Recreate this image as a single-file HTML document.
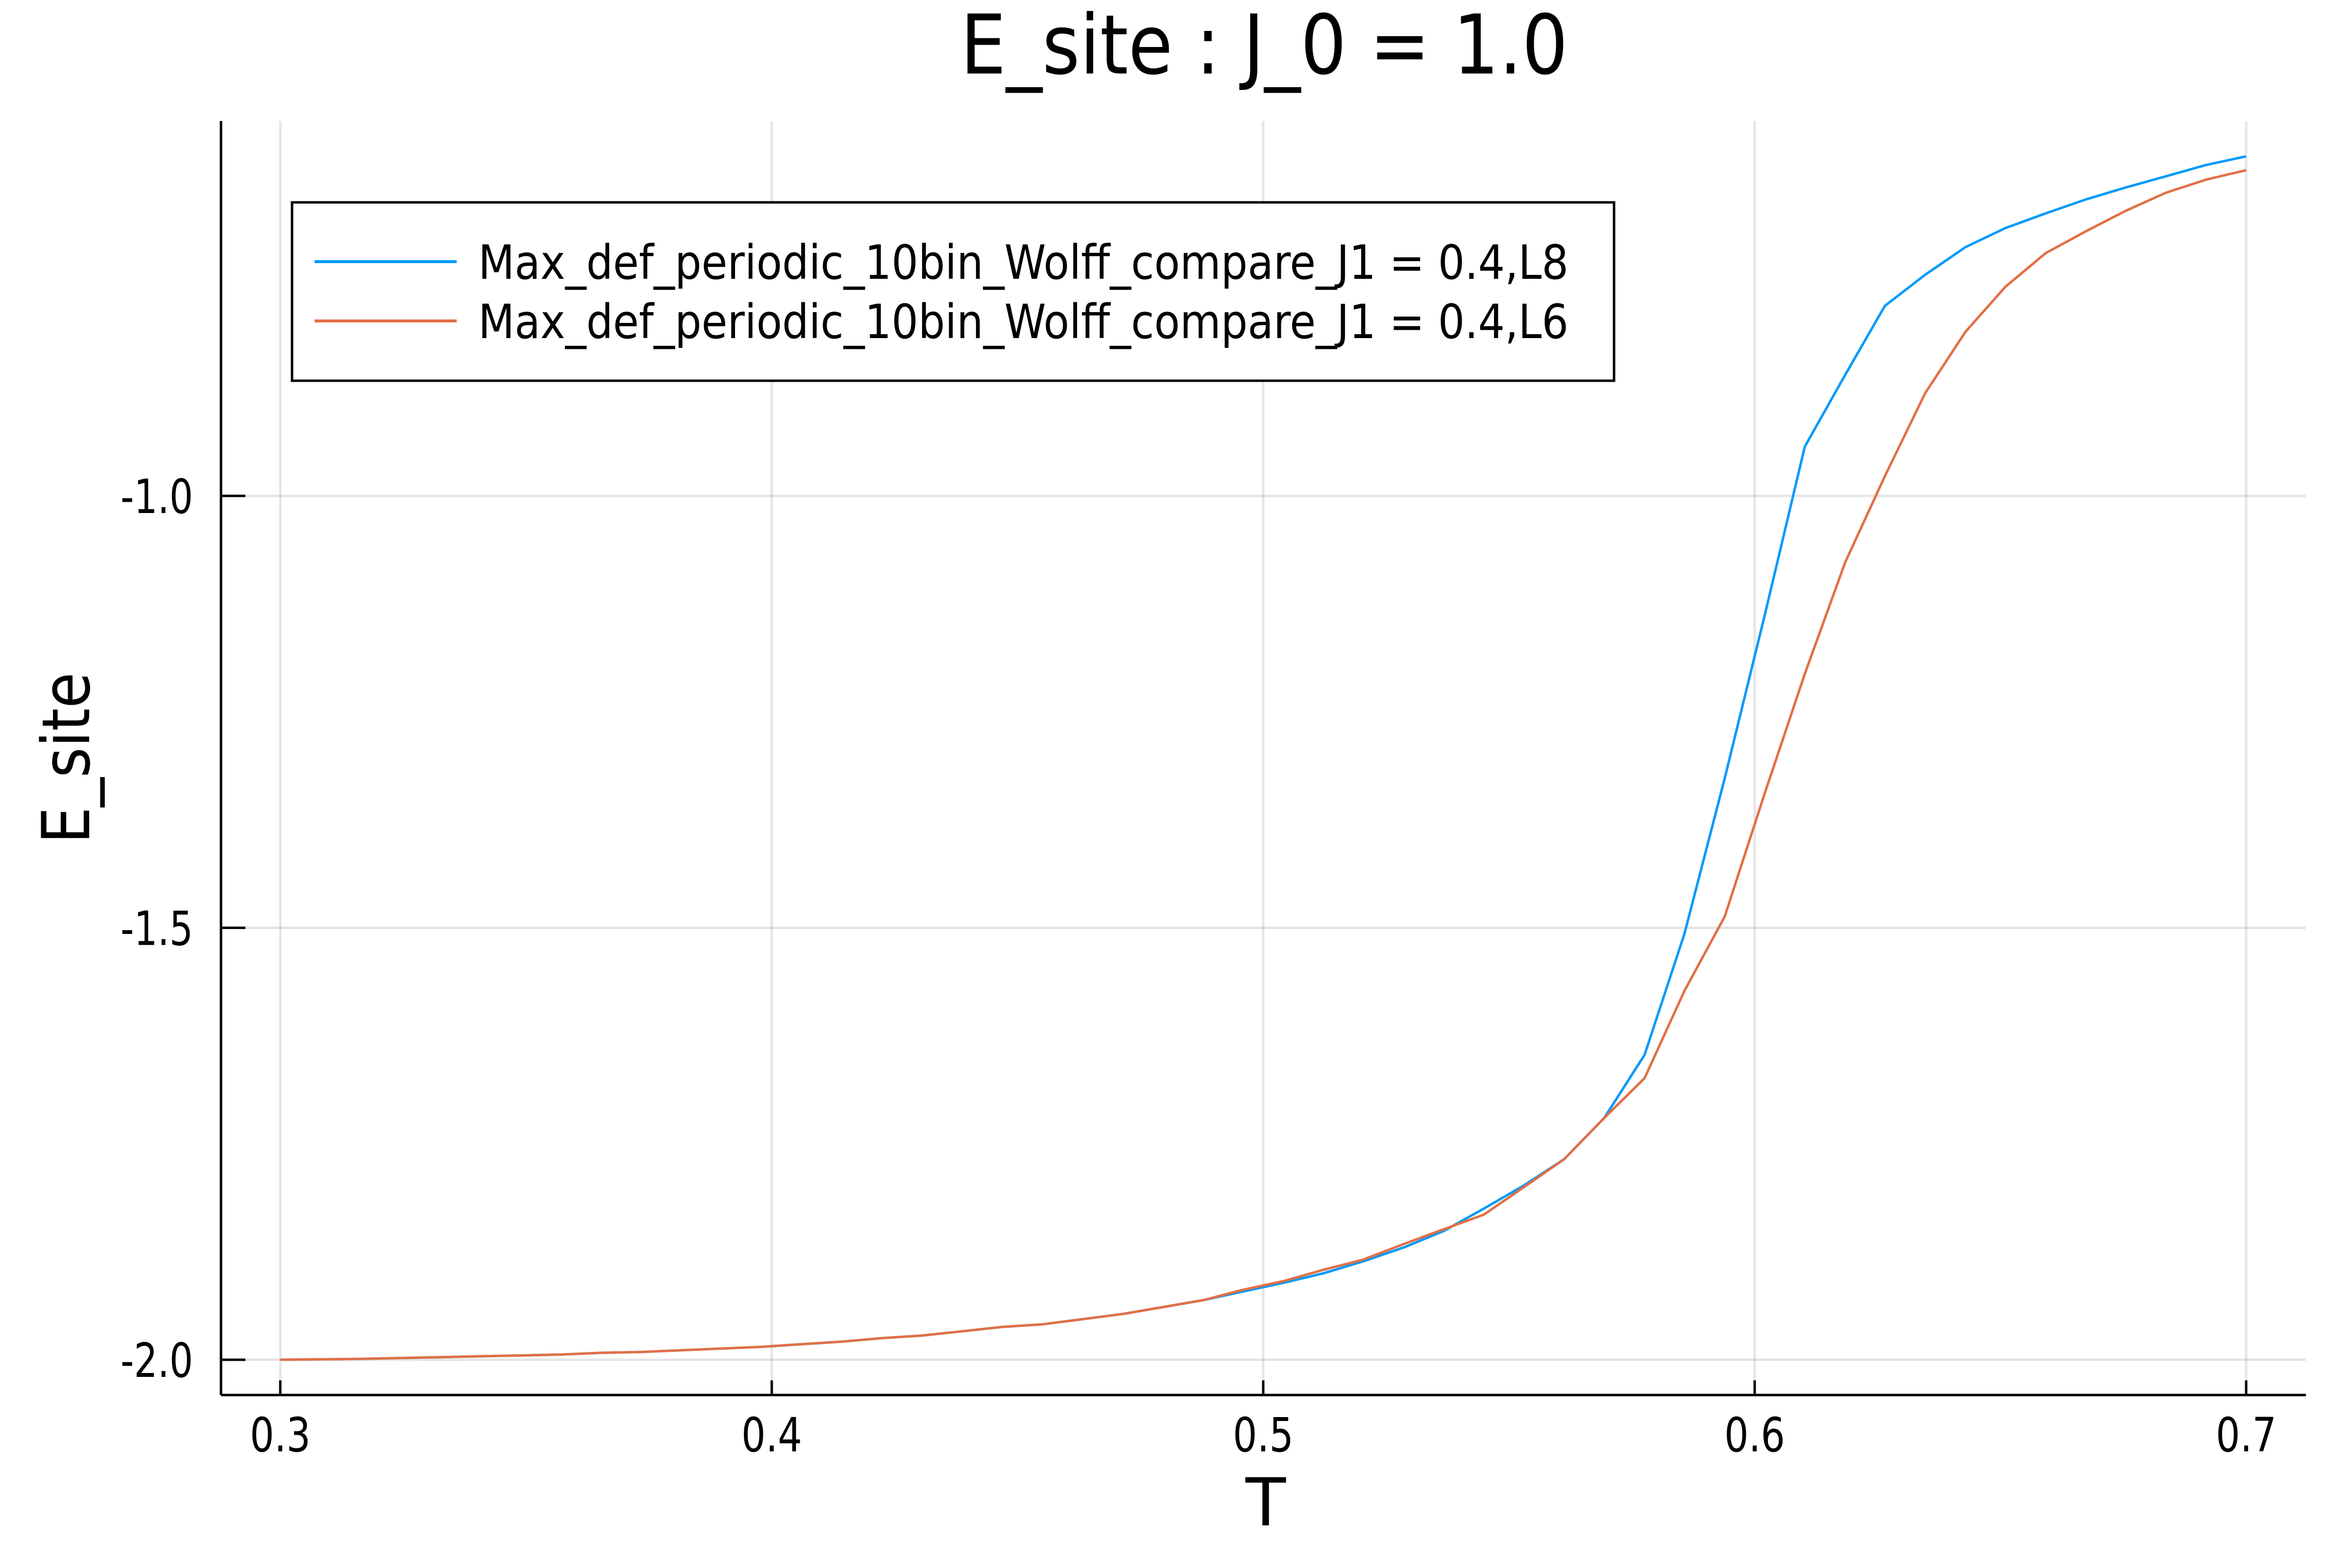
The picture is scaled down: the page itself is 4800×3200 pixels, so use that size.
<!DOCTYPE html>
<html><head><meta charset="utf-8"><style>html,body{margin:0;padding:0;background:#fff}svg{display:block}text{font-family:"DejaVu Sans","Liberation Sans",sans-serif;fill:#000}</style></head>
<body>
<svg id="chart" width="4800" height="3200" viewBox="0 0 4800 3200" xmlns="http://www.w3.org/2000/svg">
<rect x="0" y="0" width="4800" height="3200" fill="#fff"/>
<g id="grid"></g>
<g id="series"></g>
<g id="axes"></g>
<text x="2580" y="150" font-size="168" text-anchor="middle" textLength="1240" lengthAdjust="spacingAndGlyphs">E_site : J_0 = 1.0</text>
<text x="2583" y="3113" font-size="135" text-anchor="middle">T</text>
<text x="0" y="0" font-size="135" text-anchor="middle" transform="translate(182,1547) rotate(-90)" textLength="350" lengthAdjust="spacingAndGlyphs">E_site</text>
<g>
<rect x="596" y="413" width="2698" height="364" fill="#fff" stroke="#000" stroke-width="5"/>
<line x1="642" y1="534" x2="932" y2="534" stroke="#009af9" stroke-width="6"/>
<text x="976" y="569" font-size="96" textLength="2225" lengthAdjust="spacingAndGlyphs">Max_def_periodic_10bin_Wolff_compare_J1 = 0.4,L8</text>
<line x1="642" y1="655" x2="932" y2="655" stroke="#e26f46" stroke-width="6"/>
<text x="976" y="690" font-size="96" textLength="2225" lengthAdjust="spacingAndGlyphs">Max_def_periodic_10bin_Wolff_compare_J1 = 0.4,L6</text>
</g>
</svg>
<script>
const temps=[0.3,0.3082,0.3163,0.3245,0.3327,0.3408,0.3490,0.3571,0.3653,0.3735,0.3816,0.3898,0.3980,0.4061,0.4143,0.4224,0.4306,0.4388,0.4469,0.4551,0.4633,0.4714,0.4796,0.4878,0.4959,0.5041,0.5122,0.5204,0.5286,0.5367,0.5449,0.5531,0.5612,0.5694,0.5776,0.5857,0.5939,0.6020,0.6102,0.6184,0.6265,0.6347,0.6429,0.6510,0.6592,0.6673,0.6755,0.6837,0.6918,0.7000];
const seriesL8=[-2.0,-1.9995,-1.999,-1.998,-1.997,-1.996,-1.995,-1.994,-1.992,-1.991,-1.989,-1.987,-1.985,-1.982,-1.979,-1.975,-1.972,-1.967,-1.962,-1.959,-1.953,-1.947,-1.939,-1.931,-1.921,-1.911,-1.900,-1.886,-1.870,-1.851,-1.825,-1.798,-1.768,-1.720,-1.647,-1.507,-1.327,-1.139,-0.943,-0.860,-0.780,-0.744,-0.712,-0.690,-0.673,-0.657,-0.643,-0.630,-0.617,-0.607];
const seriesL6=[-2.0,-1.9995,-1.999,-1.998,-1.997,-1.996,-1.995,-1.994,-1.992,-1.991,-1.989,-1.987,-1.985,-1.982,-1.979,-1.975,-1.972,-1.967,-1.962,-1.959,-1.953,-1.947,-1.939,-1.931,-1.919,-1.909,-1.896,-1.884,-1.866,-1.849,-1.832,-1.800,-1.768,-1.720,-1.674,-1.573,-1.487,-1.345,-1.206,-1.077,-0.977,-0.881,-0.810,-0.758,-0.719,-0.694,-0.670,-0.649,-0.634,-0.623];
const xTicks=[0.3,0.4,0.5,0.6,0.7];
const xTickLabels=["0.3","0.4","0.5","0.6","0.7"];
const yTicks=[-2.0,-1.5,-1.0];
const yTickLabels=["-2.0","-1.5","-1.0"];

const NS="http://www.w3.org/2000/svg";
const L=451,R=4706,T=247,B=2847;
function xs(v){return 572+(v-0.3)*10030;}
function ys(v){return 1012+(-1-v)*1763;}
function mk(tag,attrs,parent){const e=document.createElementNS(NS,tag);for(const k in attrs)e.setAttribute(k,attrs[k]);parent.appendChild(e);return e;}
const grid=document.getElementById('grid'),axes=document.getElementById('axes'),ser=document.getElementById('series');
xTicks.forEach((v,i)=>{
  const g=mk('line',{x1:xs(v),x2:xs(v),y1:T,y2:B,stroke:'#000','stroke-opacity':0.1,'stroke-width':5},grid);
  
  
  const t=mk('line',{x1:xs(v),x2:xs(v),y1:B,y2:B-30,stroke:'#000','stroke-width':5},axes);
  
  
  const lb=mk('text',{x:xs(v),y:2962,'font-size':96,'text-anchor':'middle',textLength:124,lengthAdjust:'spacingAndGlyphs'},axes);
  lb.textContent=xTickLabels[i];
  
  
});
yTicks.forEach((v,i)=>{
  const g=mk('line',{x1:L,x2:R,y1:ys(v),y2:ys(v),stroke:'#000','stroke-opacity':0.1,'stroke-width':5},grid);
  
  
  const t=mk('line',{x1:L,x2:L+50,y1:ys(v),y2:ys(v),stroke:'#000','stroke-width':5},axes);
  
  
  const lb=mk('text',{x:394,y:ys(v)+35,'font-size':96,'text-anchor':'end',textLength:148,lengthAdjust:'spacingAndGlyphs'},axes);
  lb.textContent=yTickLabels[i];
  
  
});
const xa=mk('line',{x1:L,x2:R,y1:B,y2:B,stroke:'#000','stroke-width':5},axes);


const ya=mk('line',{x1:L,x2:L,y1:T,y2:B,stroke:'#000','stroke-width':5},axes);


function pts(arr){return arr.map((v,i)=>xs(temps[i]).toFixed(1)+','+ys(v).toFixed(1)).join(' ');}
const p1=mk('polyline',{points:pts(seriesL8),fill:'none',stroke:'#009af9','stroke-width':5,'stroke-linejoin':'round'},ser);


const p2=mk('polyline',{points:pts(seriesL6),fill:'none',stroke:'#e26f46','stroke-width':5,'stroke-linejoin':'round'},ser);


</script>
</body></html>
